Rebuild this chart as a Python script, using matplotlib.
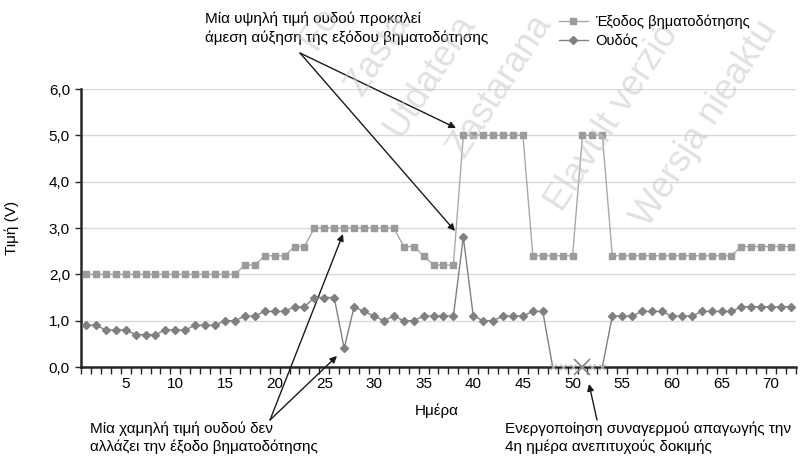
import numpy as np
import matplotlib.pyplot as plt
from matplotlib.lines import Line2D

plt.rcParams['font.family'] = ['Liberation Sans', 'DejaVu Sans']
plt.rcParams['font.size'] = 11

days = np.arange(1, 73)

# step output (squares)
pacing_output = ([2.0] * 16 + [2.2] * 2 + [2.4] * 3 + [2.6] * 2 + [3.0] * 9 +
                 [2.6] * 2 + [2.4] + [2.2] * 3 + [5.0] * 7 + [2.4] * 5 +
                 [5.0] * 3 + [2.4] * 13 + [2.6] * 6)

# threshold (diamonds)
threshold = [0.9, 0.9, 0.8, 0.8, 0.8, 0.7, 0.7, 0.7, 0.8, 0.8, 0.8, 0.9, 0.9, 0.9,
             1.0, 1.0, 1.1, 1.1, 1.2, 1.2, 1.2, 1.3, 1.3, 1.5, 1.5, 1.5, 0.4, 1.3,
             1.2, 1.1, 1.0, 1.1, 1.0, 1.0, 1.1, 1.1, 1.1, 1.1, 2.8, 1.1, 1.0, 1.0,
             1.1, 1.1, 1.1, 1.2, 1.2, 0.0, 0.0, 0.0, 0.0, 0.0, 0.0, 1.1, 1.1, 1.1,
             1.2, 1.2, 1.2, 1.1, 1.1, 1.1, 1.2, 1.2, 1.2, 1.2, 1.3, 1.3, 1.3, 1.3,
             1.3, 1.3]
alarm_day = 51

pacing_output = np.array(pacing_output)
threshold = np.array(threshold)

W, H = 804, 461
fig = plt.figure(figsize=(W / 100, H / 100), dpi=100)
ax = fig.add_axes([81 / W, (H - 367) / H, (796 - 81) / W, (367 - 89) / H])

sq_col = '#9b9b9b'
dm_col = '#808080'

ax.plot(days, pacing_output, color='#a8a8a8', lw=1, marker='s', ms=5,
        mfc=sq_col, mec=sq_col, zorder=3)
nz = threshold > 0
ax.plot(days, threshold, color='#808080', lw=1, zorder=3)
ax.plot(days[nz], threshold[nz], ls='none', marker='D', ms=4,
        mfc=dm_col, mec=dm_col, zorder=4)
ax.plot(days[~nz], threshold[~nz], ls='none', marker='x', ms=5, mew=0.8,
        color='#b5b5b5', zorder=4, clip_on=False)
ax.plot([alarm_day], [0], ls='none', marker='x', ms=11, mew=1.3,
        color='#8a8a8a', zorder=5, clip_on=False)

ax.set_xlim(0.5, 72.5)
ax.set_ylim(0, 6)
ax.set_yticks(np.arange(0, 7))
ax.set_yticklabels([f'{v:.1f}'.replace('.', ',') for v in range(7)])
ax.set_xticks(np.arange(5, 71, 5))
ax.set_xticks(np.arange(0.5, 73, 1), minor=True)
ax.tick_params(axis='x', which='major', length=0, pad=7)
ax.tick_params(axis='x', which='minor', length=5, width=1, direction='out', color='#262626')
ax.tick_params(axis='y', length=4, width=1, direction='out', color='#262626', pad=4)
ax.grid(axis='y', color='#d9d9d9', lw=1)
ax.set_axisbelow(True)
for s in ['top', 'right']:
    ax.spines[s].set_visible(False)
for s in ['left', 'bottom']:
    ax.spines[s].set_linewidth(1.8)
    ax.spines[s].set_color('#262626')

fig.text(12 / W, 1 - 228 / H, 'Τιμή (V)', rotation=90, ha='center', va='center')
fig.text(437 / W, 1 - 411 / H, 'Ημέρα', ha='center', va='center')

# legend
handles = [Line2D([], [], color='#a8a8a8', lw=1, marker='s', ms=5, mfc=sq_col, mec=sq_col),
           Line2D([], [], color='#808080', lw=1, marker='D', ms=4, mfc=dm_col, mec=dm_col)]
fig.legend(handles, ['Έξοδος βηματοδότησης', 'Ουδός'], loc='upper left',
           bbox_to_anchor=(553 / W, 1 - 9 / H), frameon=False, handlelength=2.0,
           handletextpad=0.5, labelspacing=0.35, borderaxespad=0, fontsize=10.5)

# annotations
fig.text(205 / W, 1 - 11 / H, 'Μία υψηλή τιμή ουδού προκαλεί\nάμεση αύξηση της εξόδου βηματοδότησης',
         ha='left', va='top', linespacing=1.45)
fig.text(90 / W, 1 - 422 / H, 'Μία χαμηλή τιμή ουδού δεν\nαλλάζει την έξοδο βηματοδότησης',
         ha='left', va='top', linespacing=1.25)
fig.text(505 / W, 1 - 422 / H, 'Ενεργοποίηση συναγερμού απαγωγής την\n4η ημέρα ανεπιτυχούς δοκιμής',
         ha='left', va='top', linespacing=1.25)

arrow = dict(arrowstyle='-|>', color='#1a1a1a', lw=1, mutation_scale=10, shrinkA=0, shrinkB=0)

def arr(tip_px, tail_px):
    ax.annotate('', xy=(tip_px[0], H - tip_px[1]), xycoords='figure pixels',
                xytext=(tail_px[0], H - tail_px[1]), textcoords='figure pixels',
                arrowprops=arrow, annotation_clip=False)

arr((456, 128), (300, 53))
arr((455, 231), (300, 53))
arr((343, 234), (270, 420))
arr((337, 356), (270, 420))
arr((589, 384), (597, 420))

# watermark
wm = dict(color='#c8c8c8', alpha=0.55, fontsize=26, rotation=57, ha='center', va='center',
          family=['Liberation Sans', 'DejaVu Sans'])
fig.text(320 / W, 1 - 28 / H, 'Fo', **wm)
fig.text(378 / W, 1 - 54 / H, 'Zasta', **wm)
fig.text(430 / W, 1 - 76 / H, 'Utdatera', **wm)
fig.text(500 / W, 1 - 86 / H, 'Zastarana', **wm)
fig.text(612 / W, 1 - 118 / H, 'Elavult verzió', **wm)
fig.text(705 / W, 1 - 124 / H, 'Wersja nieaktu', **wm)

fig.savefig('out.png', dpi=100)
